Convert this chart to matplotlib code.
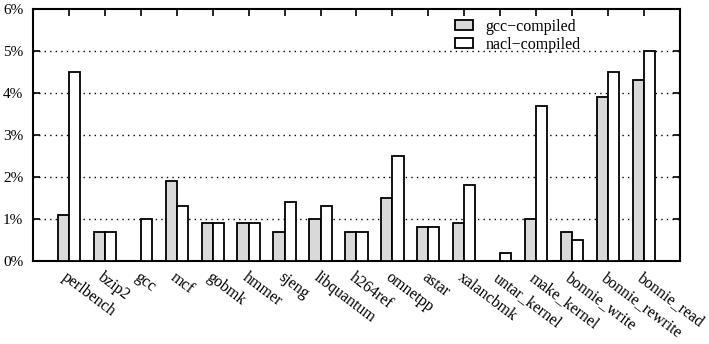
import matplotlib
matplotlib.use("Agg")
import matplotlib.pyplot as plt
import numpy as np

# benchmark names and overhead (%) for each build
benchmarks = ['perlbench', 'bzip2', 'gcc', 'mcf', 'gobmk', 'hmmer', 'sjeng',
              'libquantum', 'h264ref', 'omnetpp', 'astar', 'xalancbmk',
              'untar_kernel', 'make_kernel', 'bonnie_write', 'bonnie_rewrite',
              'bonnie_read']
gcc_compiled = [1.1, 0.7, 0.0, 1.9, 0.9, 0.9, 0.7, 1.0, 0.7, 1.5, 0.8, 0.9,
                0.0, 1.0, 0.7, 3.9, 4.3]
nacl_compiled = [4.5, 0.7, 1.0, 1.3, 0.9, 0.9, 1.4, 1.3, 0.7, 2.5, 0.8, 1.8,
                 0.2, 3.7, 0.5, 4.5, 5.0]
yticks = [0, 1, 2, 3, 4, 5, 6]

plt.rcParams['font.family'] = ['Liberation Serif', 'DejaVu Serif']

fig = plt.figure(figsize=(7.09, 3.44), dpi=100)
ax = fig.add_axes([0.0465, 0.241, 0.9125, 0.733])

x = np.arange(len(benchmarks))
w = 0.31
ax.bar(x - w / 2, gcc_compiled, w, color='#d9d9d9', edgecolor='black',
       linewidth=1.3, label='gcc\u2212compiled', zorder=3)
ax.bar(x + w / 2, nacl_compiled, w, color='white', edgecolor='black',
       linewidth=1.3, label='nacl\u2212compiled', zorder=3)

ax.set_xlim(-1, len(benchmarks))
ax.set_ylim(0, 6)
ax.set_yticks(yticks)
ax.set_yticklabels([f'{v}%' for v in yticks], fontsize=11)
ax.set_xticks(x)
ax.set_xticklabels(benchmarks, rotation=-37, ha='left', va='top',
                   rotation_mode='anchor', fontsize=11.5)

for v in yticks[1:-1]:
    ax.axhline(v, color='black', linewidth=1.0, linestyle=(0, (1, 3)), zorder=1)

ax.tick_params(axis='y', direction='in', length=5, width=1.2, left=True,
               right=True, pad=7)
ax.tick_params(axis='x', direction='in', length=5, width=1.2, top=True,
               bottom=False, pad=6)
for s in ax.spines.values():
    s.set_linewidth(1.5)

ax.legend(loc='upper left', bbox_to_anchor=(0.652, 0.962), frameon=False,
          borderpad=0, borderaxespad=0, handlelength=1.15, handleheight=0.6,
          handletextpad=0.75, labelspacing=0.15, fontsize=11.5)

fig.savefig('out.png', dpi=100)
